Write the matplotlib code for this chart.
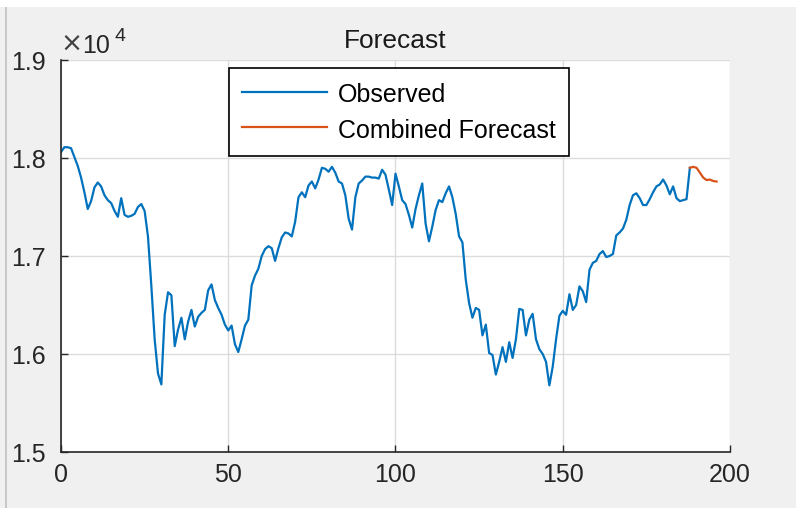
import numpy as np
import matplotlib
matplotlib.use('Agg')
from matplotlib import pyplot as plt
from matplotlib.patches import Rectangle

plt.rcParams['font.family'] = ['Liberation Sans', 'DejaVu Sans']

# observed series, index 0..188
observed = [
    18060, 18110, 18110, 18100, 18010, 17920, 17800, 17650, 17480, 17560,
    17700, 17750, 17710, 17620, 17570, 17540, 17460, 17400, 17590, 17420,
    17400, 17410, 17430, 17500, 17530, 17460, 17200, 16700, 16150, 15800,
    15690, 16400, 16630, 16600, 16080, 16250, 16370, 16150, 16330, 16450,
    16280, 16380, 16420, 16450, 16650, 16710, 16550, 16470, 16400, 16300,
    16240, 16290, 16100, 16020, 16150, 16290, 16350, 16700, 16800, 16870,
    17000, 17070, 17100, 17080, 16950, 17080, 17190, 17240, 17230, 17200,
    17350, 17600, 17650, 17600, 17720, 17760, 17690, 17780, 17900, 17890,
    17860, 17910, 17850, 17760, 17740, 17620, 17380, 17270, 17600, 17740,
    17770, 17810, 17810, 17800, 17800, 17790, 17880, 17830, 17680, 17520,
    17840, 17710, 17570, 17530, 17420, 17290, 17480, 17620, 17740, 17330,
    17150, 17300, 17470, 17570, 17550, 17640, 17710, 17600, 17430, 17200,
    17140, 16760, 16520, 16370, 16470, 16450, 16190, 16300, 16010, 15990,
    15790, 15920, 16070, 15920, 16120, 15960, 16150, 16460, 16450, 16190,
    16350, 16410, 16150, 16050, 16000, 15920, 15680, 15870, 16150, 16390,
    16440, 16400, 16610, 16450, 16500, 16690, 16640, 16530, 16860, 16930,
    16950, 17020, 17050, 16990, 17000, 17020, 17210, 17240, 17280, 17370,
    17520, 17620, 17640, 17590, 17520, 17520, 17580, 17650, 17710, 17730,
    17780, 17720, 17630, 17710, 17590, 17560, 17570, 17580, 17900,
]
# combined forecast, index 188..196
forecast = [17900, 17910, 17900, 17850, 17800, 17775, 17780, 17765, 17760]

x_obs = np.arange(len(observed))
x_fc = np.arange(len(observed) - 1, len(observed) - 1 + len(forecast))

W, H = 796, 508
fig = plt.figure(figsize=(W / 100, H / 100), dpi=100, facecolor='#f0f0f0')
# window strip at the top and left edge
fig.patches.append(Rectangle((0, 1 - 7 / H), 1, 7 / H, transform=fig.transFigure,
                             facecolor='white', edgecolor='none'))
fig.patches.append(Rectangle((5 / W, 0), 1.5 / W, 1 - 7 / H, transform=fig.transFigure,
                             facecolor='#c8c8c8', edgecolor='none'))

ax = fig.add_axes([61 / W, 1 - 452 / H, (730 - 61) / W, (452 - 60) / H])
ax.plot(x_obs, observed, color='#0072BD', lw=1.6, label='Observed')
ax.plot(x_fc, forecast, color='#D95319', lw=1.6, label='Combined Forecast')

ax.set_xlim(0, 200)
ax.set_ylim(15000, 19000)
ax.set_xticks([0, 50, 100, 150, 200])
ax.set_yticks([15000, 16000, 17000, 18000, 19000])
ax.set_yticklabels(['1.5', '1.6', '1.7', '1.8', '1.9'])

ax.grid(True, color='#dcdcdc', lw=1)
ax.set_axisbelow(True)
for s in ['top', 'right']:
    ax.spines[s].set_visible(False)
for s in ['left', 'bottom']:
    ax.spines[s].set_color('#262626')
    ax.spines[s].set_linewidth(1.2)
ax.tick_params(direction='in', length=5, width=1, colors='#262626', labelsize=18)
ax.tick_params(axis='y', pad=11)
ax.tick_params(axis='x', pad=8)

ax.set_title('Forecast', fontsize=19, color='#1a1a1a', pad=9)
# exponent label above the y axis
fig.text(60 / W, 1 - 52 / H, '\u00d7', fontsize=19, family='DejaVu Sans',
         color='#404040', ha='left', va='baseline')
fig.text(82 / W, 1 - 53 / H, '10', fontsize=18, color='#262626',
         ha='left', va='baseline')
fig.text(115 / W, 1 - 41 / H, '4', fontsize=14, color='#262626',
         ha='left', va='baseline')

leg = ax.legend(loc='upper left', bbox_to_anchor=(229 / W, 1 - 68 / H),
                bbox_transform=fig.transFigure, fontsize=18, frameon=True,
                fancybox=False, edgecolor='black', framealpha=1,
                handlelength=3.4, handletextpad=0.45, handleheight=1.2,
                borderpad=0.52, labelspacing=0.36, borderaxespad=0)
leg.get_frame().set_linewidth(1.2)

fig.savefig('out.png', dpi=100, facecolor=fig.get_facecolor())
